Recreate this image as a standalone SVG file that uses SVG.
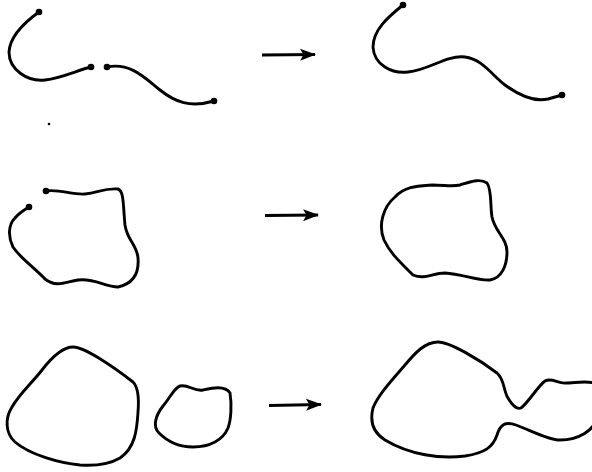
<svg xmlns="http://www.w3.org/2000/svg" width="592" height="472" viewBox="0 0 592 472">
<style>
.c{fill:none;stroke:#000;stroke-width:2.9;stroke-linecap:round;stroke-linejoin:round}
.d{fill:#000}
.a{fill:none;stroke:#000;stroke-width:3;marker-end:url(#ah)}
</style>
<defs>
<marker id="ah" markerUnits="userSpaceOnUse" viewBox="0 0 16 13" markerWidth="16" markerHeight="13" refX="15" refY="6.5" orient="auto">
<path d="M0,0.5 L16,6.5 L0,12.5 L3.5,6.5 Z" fill="#000"/>
</marker>
</defs>
<rect width="592" height="472" fill="#fff"/>
<g id="row1-before">
<path class="c" d="M39,12 C25,22 10,36 9,52 C9,70 28,82 45,80 C62,78 78,70 91,67"/>
<path class="c" d="M107,67 C130,62 145,78 160,90 C175,102 190,108 214,101"/>
<circle class="d" cx="39" cy="12" r="3.3"/>
<circle class="d" cx="91" cy="67" r="3.3"/>
<circle class="d" cx="107" cy="67" r="3.3"/>
<circle class="d" cx="214" cy="101" r="3.3"/>
</g>
<g id="row1-after">
<path class="c" d="M403,5 C388,17 373,30 373,47 C374,65 392,74 408,72 C430,70 445,55 465,57 C482,59 492,75 505,85 C520,96 535,102 548,99 L562,95"/>
<circle class="d" cx="403" cy="5" r="3.3"/>
<circle class="d" cx="562" cy="95" r="3.3"/>
</g>
<g id="stray-dot"><circle class="d" cx="49" cy="124" r="1.3"/></g>
<g id="row2-before">
<path class="c" d="M46,191 C60,189 72,195 85,194 C98,193 103,188 118,189 C124,191 123,205 125,225 C127,240 137,245 138,258 C139,270 136,283 118,287 C105,287 95,278 78,280 C65,282 57,288 45,279 C35,268 20,258 13,247 C8,237 8,225 15,218 C19,213 24,210 29,207"/>
<circle class="d" cx="46" cy="191" r="3.3"/>
<circle class="d" cx="29" cy="207" r="3.3"/>
</g>
<g id="row2-after">
<path class="c" d="M395,197 C405,186 418,186 432,185 C445,185 452,187 460,185 C470,182 480,178 487,183 C492,190 490,205 492,217 C495,232 507,238 507,252 C507,265 502,278 490,280 C478,281 462,274 445,273 C432,273 425,280 413,275 C400,262 390,253 384,240 C378,225 383,207 395,197 Z"/>
</g>
<g id="row3-before">
<path class="c" d="M73,347 C85,347 115,368 133,382 C139,388 139,400 138,412 C137,430 135,448 120,458 C108,465 95,466 80,465 C60,463 30,455 15,442 C5,433 5,418 12,407 C20,393 32,383 42,370 C52,357 62,347 73,347 Z"/>
<path class="c" d="M180,386 C188,384 195,392 203,390 C212,388 225,385 230,393 C232,405 231,420 228,428 C223,440 210,447 193,447 C180,447 168,442 159,433 C152,426 156,415 163,406 C170,398 174,388 180,386 Z"/>
</g>
<g id="row3-after">
<path class="c" d="M438,342 C450,342 480,360 497,373 C505,380 503,390 508,398 C512,405 516,410 521,408 C528,403 538,386 545,381 C552,377 558,384 566,383 C575,383 590,380 597,384 L597,420 C592,430 580,440 560,440 C548,440 530,430 516,425 C505,421 500,425 497,435 C493,447 485,453 465,456 C440,459 410,455 385,440 C372,432 370,420 373,408 C378,395 392,380 405,365 C415,353 425,342 438,342 Z"/>
</g>
<g id="connectors">
<path class="a" d="M262,55 L315,54.5"/>
<path class="a" d="M265,215.5 L318,215"/>
<path class="a" d="M269,405.5 L321,404.5"/>
</g>
</svg>
